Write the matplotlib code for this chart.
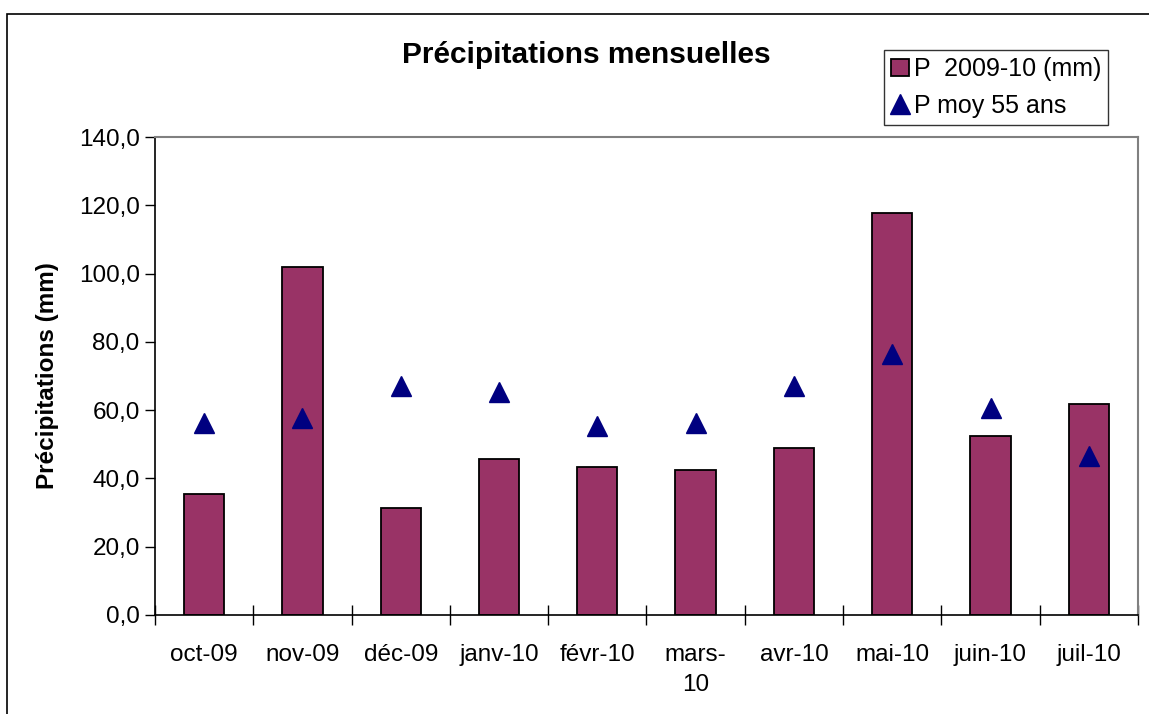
import numpy as np
import matplotlib.pyplot as plt
from matplotlib.patches import Rectangle

plt.rcParams['font.family'] = ['Liberation Sans', 'DejaVu Sans']

mois = ['oct-09', 'nov-09', 'déc-09', 'janv-10', 'févr-10', 'mars-\n10',
        'avr-10', 'mai-10', 'juin-10', 'juil-10']
p_2009 = [35.5, 102.0, 31.2, 45.6, 43.4, 42.5, 48.8, 117.8, 52.3, 61.8]  # mm
p_moy = [56.2, 57.8, 67.2, 65.3, 55.3, 56.2, 67.2, 76.4, 60.5, 46.7]

fig = plt.figure(figsize=(11.49, 7.14), dpi=100)
ax = fig.add_axes([0.1349, 0.1387, 0.8555, 0.6694])

# cadre du graphique
fig.patches.append(Rectangle((0.006, -0.05), 1.1, 1.03,
                             transform=fig.transFigure, fill=False,
                             edgecolor='black', linewidth=1.2))

x = np.arange(len(mois))
barres = ax.bar(x, p_2009, width=0.41, color='#993366', edgecolor='black',
                linewidth=1.3, label='P  2009-10 (mm)', zorder=2)
tri, = ax.plot(x, p_moy, linestyle='none', marker='^', markersize=14,
               color='#000080', label='P moy 55 ans', zorder=3)

ax.set_xlim(-0.5, len(mois) - 0.5)
ax.set_ylim(0, 140)
ax.set_yticks(np.arange(0, 141, 20))
ax.set_yticklabels([f'{v:.1f}'.replace('.', ',') for v in np.arange(0, 141, 20)],
                   fontsize=17.5)
ax.set_xticks(x)
ax.set_xticklabels(mois, fontsize=17.5, linespacing=1.45)
ax.set_xticks(np.arange(-0.5, len(mois)), minor=True)
ax.tick_params(axis='x', which='major', length=0, pad=21)
ax.tick_params(axis='x', which='minor', length=14, direction='inout', width=1)
ax.tick_params(axis='y', length=7, direction='out', width=1, pad=4)

for s in ['top', 'right']:
    ax.spines[s].set_color('#808080')
    ax.spines[s].set_linewidth(1.5)
for s in ['left', 'bottom']:
    ax.spines[s].set_color('black')
    ax.spines[s].set_linewidth(1.2)

ax.set_ylabel('Précipitations (mm)', fontsize=17.5, fontweight='bold', labelpad=14)
fig.text(0.510, 0.923, 'Précipitations mensuelles', fontsize=21.5,
         fontweight='bold', ha='center', va='center')

leg = fig.legend([barres, tri], ['P  2009-10 (mm)', 'P moy 55 ans'],
                 loc='upper left', bbox_to_anchor=(0.769, 0.930), fontsize=18,
                 frameon=True, fancybox=False, edgecolor='black',
                 handlelength=0.7, handleheight=0.7, handletextpad=0.2,
                 borderpad=0.3, labelspacing=0.5, borderaxespad=0)
leg.get_frame().set_linewidth(1.0)

fig.savefig('out.png', dpi=100)
